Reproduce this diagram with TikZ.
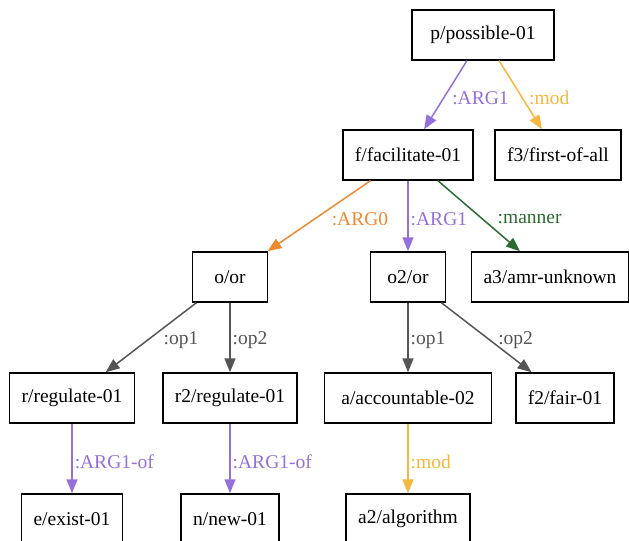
\documentclass[tikz,border=0pt]{standalone}
\usepackage{fontspec}
\setmainfont{Liberation Serif}
\usetikzlibrary{arrows.meta}
\definecolor{argpurple}{RGB}{147,112,219}
\definecolor{modgold}{RGB}{245,183,61}
\definecolor{argorange}{RGB}{240,137,48}
\definecolor{manngreen}{RGB}{45,106,47}
\definecolor{opgray}{RGB}{85,85,85}
\tikzset{
box/.style={draw, line width=0.75pt, minimum height=25pt, minimum width=37.5pt, inner xsep=6pt, font=\fontsize{9.75}{11.7}\selectfont},
lbl/.style={anchor=west, inner sep=0pt, yshift=-1.5pt, font=\fontsize{9.75}{11.7}\selectfont}
}
\newcommand \myedge[5]
{
\draw[->,#1] (#2)--node[lbl,xshift=#5]{#4}(#3);
}

\begin{document}
\begin{tikzpicture}[x=0.5pt, y=-0.5pt, line width=0.75pt, >={Triangle[length=7pt,width=5.5pt]}]
\useasboundingbox (0,0) rectangle (629,541);
\node[box, minimum width=71pt]   (p)  at (483,35)  {p/possible-01};
\node[box]                       (f)  at (408,155) {f/facilitate-01};
\node[box]                       (f3) at (558,155) {f3/first-of-all};
\node[box]                       (o)  at (230,277) {o/or};
\node[box]                       (o2) at (408,277) {o2/or};
\node[box]                       (a3) at (550,277) {a3/amr-unknown};
\node[box]                       (r)  at (72,398)  {r/regulate-01};
\node[box]                       (r2) at (230,398) {r2/regulate-01};
\node[box, minimum width=83.5pt] (a)  at (408,398) {a/accountable-02};
\node[box]                       (f2) at (565,398) {f2/fair-01};
\node[box]                       (e)  at (72,519)  {e/exist-01};
\node[box]                       (n)  at (230,519) {n/new-01};
\node[box]                       (a2) at (408,519) {a2/algorithm};
\myedge{argpurple}{p}{f}{:ARG1}{3pt}
\myedge{modgold}{p}{f3}{:mod}{4pt}
\myedge{argorange}{f}{o}{:ARG0}{6pt}
\myedge{argpurple}{f}{o2}{:ARG1}{1pt}
\myedge{manngreen}{f}{a3}{:manner}{9pt}
\myedge{opgray}{o}{r}{:op1}{6pt}
\myedge{opgray}{o}{r2}{:op2}{1pt}
\myedge{opgray}{o2}{a}{:op1}{1pt}
\myedge{opgray}{o2}{f2}{:op2}{5.5pt}
\myedge{argpurple}{r}{e}{:ARG1-of}{1pt}
\myedge{argpurple}{r2}{n}{:ARG1-of}{1pt}
\myedge{modgold}{a}{a2}{:mod}{1pt}
\end{tikzpicture}
\end{document}
